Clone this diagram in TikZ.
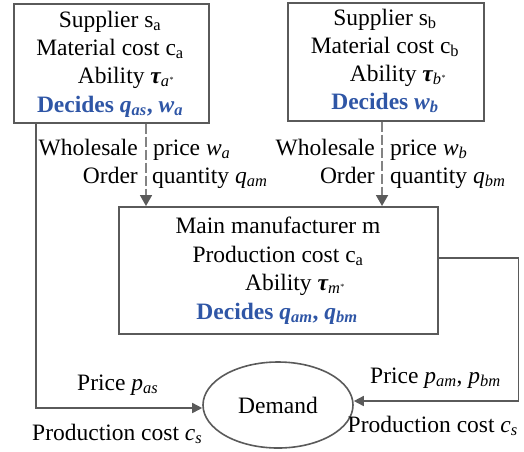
\documentclass[tikz,border=0pt]{standalone}
\usepackage{fontspec}
\setmainfont{Liberation Serif}
\usetikzlibrary{arrows.meta,shapes.geometric}
\definecolor{ln}{HTML}{5A5A5A}
\definecolor{dec}{HTML}{2F56A6}
\newcommand\vv[2]{\textit{#1}\textsubscript{\textit{#2}}}
\newcommand\ssb[2]{#1\textsubscript{#2}}
\newcommand\tauab[1]{{\bfseries\itshape τ}\textsubscript{\textit{#1}\kern0.5pt\raisebox{0.6ex}{\fontsize{8}{8}\selectfont *}}}
\begin{document}
\begin{tikzpicture}[x=1pt,y=-1pt, font=\fontsize{23.5}{28}\selectfont,
  box/.style={draw=ln, line width=1.6pt, inner sep=0pt},
  conn/.style={draw=ln, line width=1.6pt, -{Triangle[width=10pt,length=10pt]}},
  dconn/.style={draw=ln!75, line width=1.8pt, dash pattern=on 10pt off 3pt, -{Triangle[width=12pt,length=11pt,fill=ln,color=ln]}},
  txt/.style={anchor=base, inner sep=0pt},
  ltxt/.style={anchor=base west, inner sep=0pt},
  rtxt/.style={anchor=base east, inner sep=0pt},
  dtxt/.style={anchor=base, inner sep=0pt, text=dec, font=\fontsize{23.5}{28}\selectfont\bfseries},
  ]
\useasboundingbox (0,0) rectangle (524,451);
% boxes
\node (A) [box, anchor=north west, minimum width=195pt, minimum height=119pt] at (13,3) {};
\node (B) [box, anchor=north west, minimum width=196pt, minimum height=118pt] at (287,2) {};
\node (M) [box, anchor=north west, minimum width=319pt, minimum height=127pt] at (118,206) {};
\node (D) [draw=ln, line width=1.6pt, ellipse, minimum width=150pt, minimum height=86pt, inner sep=0pt] at (278,405) {Demand};
% box A text
\node (a1) [txt] at (110,27) {Supplier \ssb{s}{a}};
\node (a2) [txt] at (110,55) {Material cost \ssb{c}{a}};
\node (a3) [txt] at (126,83) {Ability \tauab{a}};
\node (a4) [dtxt] at (110,112) {Decides \vv{q}{as}, \vv{w}{a}};
% box B text
\node (b1) [txt] at (385,25) {Supplier \ssb{s}{b}};
\node (b2) [txt] at (385,53) {Material cost \ssb{c}{b}};
\node (b3) [txt] at (398,81) {Ability \tauab{b}};
\node (b4) [dtxt] at (385,109) {Decides \vv{w}{b}};
% box M text
\node (m1) [txt] at (278,233) {Main manufacturer m};
\node (m2) [txt] at (278,262) {Production cost \ssb{c}{a}};
\node (m3) [txt] at (295,290) {Ability \tauab{m}};
\node (m4) [dtxt] at (277,319) {Decides \vv{q}{am}, \vv{q}{bm}};
% dashed connectors
\draw[dconn] ([xshift=133pt]A.south west) -- ([xshift=133pt]A.south west |- M.north);
\draw[dconn] ([xshift=95pt]B.south west) -- ([xshift=95pt]B.south west |- M.north);
\node (wa1) [rtxt] at (138,155) {Wholesale};
\node (wa2) [ltxt] at (153,155) {price \vv{w}{a}};
\node (wa3) [rtxt] at (138,183) {Order};
\node (wa4) [ltxt] at (152,183) {quantity \vv{q}{am}};
\node (wb1) [rtxt] at (375,155) {Wholesale};
\node (wb2) [ltxt] at (390,155) {price \vv{w}{b}};
\node (wb3) [rtxt] at (375,183) {Order};
\node (wb4) [ltxt] at (390,183) {quantity \vv{q}{bm}};
% demand connectors
\draw[conn] ([xshift=23pt]A.south west) |- ([yshift=-3pt]D.west);
\draw[conn] ([yshift=12.5pt]M.east) -- ++(80,0) |- ([yshift=4pt]D.east);
\node (pl1) [ltxt] at (77,390) {Price \vv{p}{as}};
\node (pl2) [ltxt] at (32,440) {Production cost \vv{c}{s}};
\node (pr1) [ltxt] at (370,383) {Price \vv{p}{am}, \vv{p}{bm}};
\node (pr2) [rtxt] at (518,432) {Production cost \vv{c}{s}};
\end{tikzpicture}
\end{document}
